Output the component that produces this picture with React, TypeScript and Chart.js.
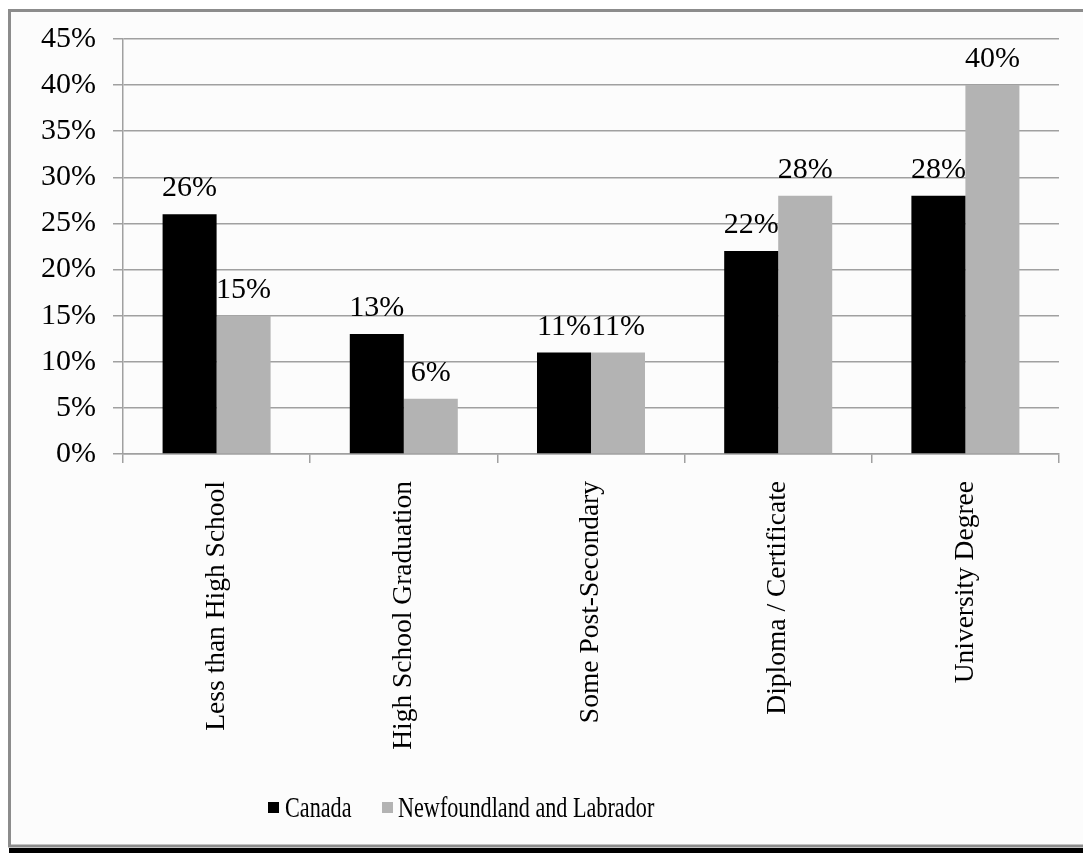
import React, { useEffect, useRef } from "react";
import { Chart, registerables } from "chart.js";

Chart.register(...registerables);

const categories = [
  "Less than High School",
  "High School Graduation",
  "Some Post-Secondary",
  "Diploma / Certificate",
  "University Degree",
];
const canadaValues = [26, 13, 11, 22, 28];
const nlValues = [15, 6, 11, 28, 40];
const seriesNames = ["Canada", "Newfoundland and Labrador"];
const seriesColors = ["#000000", "#b3b3b3"];

const FONT = "'Liberation Serif', 'Times New Roman', serif";
const GRID = "#a0a0a0";

const framePlugin = {
  id: "frame",
  beforeDraw(chart: any) {
    const { ctx, width, height } = chart;
    ctx.save();
    ctx.fillStyle = "#ffffff";
    ctx.fillRect(0, 0, width, height);
    ctx.fillStyle = "#fcfcfc";
    ctx.fillRect(10, 10, width - 10, height - 18);
    ctx.fillStyle = "#000000";
    ctx.fillRect(9, 848, width - 9, height - 848);
    ctx.strokeStyle = "#8c8c8c";
    ctx.lineWidth = 3;
    ctx.beginPath();
    ctx.moveTo(width + 5, 10.5);
    ctx.lineTo(9.5, 10.5);
    ctx.lineTo(9.5, 846);
    ctx.lineTo(width + 5, 846);
    ctx.stroke();
    ctx.restore();
  },
};

const dataLabelPlugin = {
  id: "dataLabels",
  afterDatasetsDraw(chart: any) {
    const { ctx } = chart;
    ctx.save();
    ctx.font = `30px ${FONT}`;
    ctx.fillStyle = "#000000";
    ctx.textAlign = "center";
    ctx.textBaseline = "alphabetic";
    chart.data.datasets.forEach((ds: any, i: number) => {
      const meta = chart.getDatasetMeta(i);
      meta.data.forEach((bar: any, j: number) => {
        ctx.fillText(`${ds.data[j]}%`, bar.x, bar.y - 18);
      });
    });
    ctx.restore();
  },
};

const legendPlugin = {
  id: "customLegend",
  afterDraw(chart: any) {
    const { ctx } = chart;
    const items = [
      { sq: 268, tx: 285 },
      { sq: 382, tx: 398 },
    ];
    ctx.save();
    ctx.font = `29px ${FONT}`;
    ctx.textBaseline = "alphabetic";
    ctx.textAlign = "left";
    chart.data.datasets.forEach((ds: any, i: number) => {
      const it = items[i];
      ctx.fillStyle = ds.backgroundColor;
      ctx.fillRect(it.sq, 802, 11, 11);
      ctx.fillStyle = "#000000";
      ctx.save();
      ctx.translate(it.tx, 817);
      ctx.scale(0.765, 1);
      ctx.fillText(ds.label, 0, 0);
      ctx.restore();
    });
    ctx.restore();
  },
};

export default function App() {
  const ref = useRef<HTMLCanvasElement>(null);

  useEffect(() => {
    if (!ref.current) return;
    const chart = new Chart(ref.current, {
      type: "bar",
      data: {
        labels: categories,
        datasets: [
          {
            label: seriesNames[0],
            data: canadaValues,
            backgroundColor: seriesColors[0],
            categoryPercentage: 0.577,
            barPercentage: 1,
          },
          {
            label: seriesNames[1],
            data: nlValues,
            backgroundColor: seriesColors[1],
            categoryPercentage: 0.577,
            barPercentage: 1,
          },
        ],
      },
      options: {
        responsive: false,
        animation: false,
        devicePixelRatio: 1,
        layout: { padding: { top: 39, right: 24, left: 10, bottom: 0 } },
        plugins: {
          legend: { display: false },
          tooltip: { enabled: false },
          title: { display: false },
        },
        scales: {
          x: {
            offset: true,
            grid: {
              offset: true,
              drawOnChartArea: false,
              drawTicks: true,
              tickLength: 9,
              color: GRID,
              lineWidth: 1.5,
            },
            border: { display: true, color: GRID, width: 1.5 },
            ticks: {
              autoSkip: false,
              minRotation: 90,
              maxRotation: 90,
              padding: 18,
              color: "#000000",
              font: { family: FONT, size: 27.5 },
            },
            afterFit(s: any) {
              s.height = 853 - 454;
            },
          },
          y: {
            min: 0,
            max: 45,
            ticks: {
              stepSize: 5,
              padding: 17,
              color: "#000000",
              font: { family: FONT, size: 30 },
              callback: (v: any) => `${v}%`,
            },
            grid: {
              color: GRID,
              lineWidth: 1.5,
              drawTicks: true,
              tickLength: 10,
            },
            border: { display: true, color: GRID, width: 1.5 },
            afterFit(s: any) {
              s.width = 113;
            },
          },
        },
      },
      plugins: [framePlugin, dataLabelPlugin, legendPlugin],
    });
    return () => chart.destroy();
  }, []);

  return (
    <div style={{ position: "fixed", left: 0, top: 0, width: 1083, height: 853 }}>
      <canvas ref={ref} width={1083} height={853} style={{ display: "block" }} />
    </div>
  );
}
